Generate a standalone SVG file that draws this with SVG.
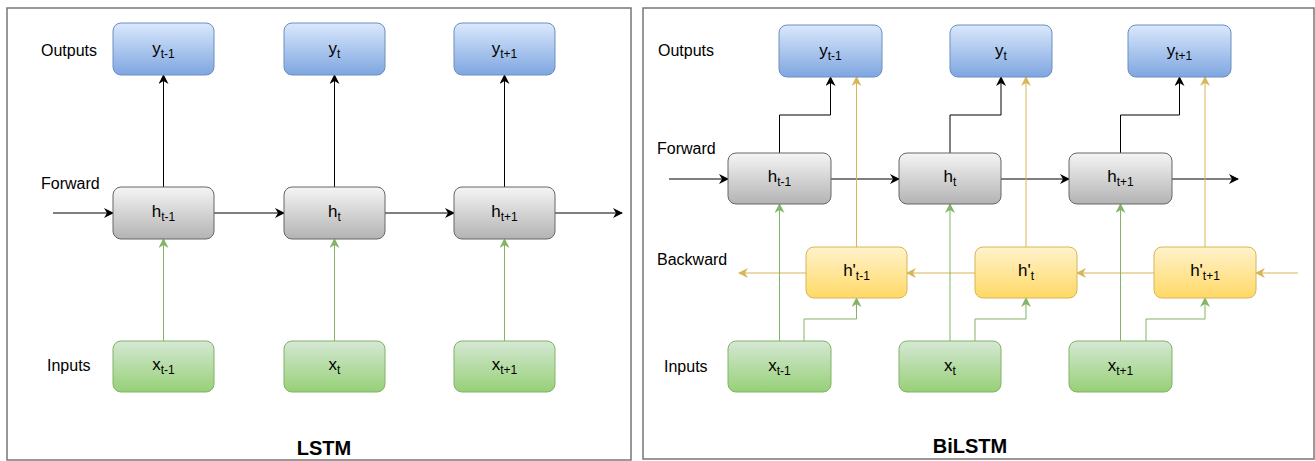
<svg xmlns="http://www.w3.org/2000/svg" width="1315" height="461" viewBox="0 0 1315 461">
  <defs>
    <linearGradient id="gBlue" x1="0" y1="0" x2="0" y2="1">
      <stop offset="0" stop-color="#dae8fc"/>
      <stop offset="1" stop-color="#7ea6e0"/>
    </linearGradient>
    <linearGradient id="gGray" x1="0" y1="0" x2="0" y2="1">
      <stop offset="0" stop-color="#f5f5f5"/>
      <stop offset="1" stop-color="#b3b3b3"/>
    </linearGradient>
    <linearGradient id="gYellow" x1="0" y1="0" x2="0" y2="1">
      <stop offset="0" stop-color="#fff2cc"/>
      <stop offset="1" stop-color="#ffd966"/>
    </linearGradient>
    <linearGradient id="gGreen" x1="0" y1="0" x2="0" y2="1">
      <stop offset="0" stop-color="#d5e8d4"/>
      <stop offset="1" stop-color="#97d077"/>
    </linearGradient>
    <marker id="aBlack" viewBox="0 0 10 10" refX="9" refY="5" markerWidth="10" markerHeight="10" markerUnits="userSpaceOnUse" orient="auto">
      <path d="M0,0 L10,5 L0,10 L3,5 Z" fill="#000"/>
    </marker>
    <marker id="aGreen" viewBox="0 0 10 10" refX="9" refY="5" markerWidth="10" markerHeight="10" markerUnits="userSpaceOnUse" orient="auto">
      <path d="M0,0 L10,5 L0,10 L3,5 Z" fill="#82b366"/>
    </marker>
    <marker id="aYellow" viewBox="0 0 10 10" refX="9" refY="5" markerWidth="10" markerHeight="10" markerUnits="userSpaceOnUse" orient="auto">
      <path d="M0,0 L10,5 L0,10 L3,5 Z" fill="#d6b656"/>
    </marker>
  </defs>
  <style>
    text { font-family: "Liberation Sans", Arial, sans-serif; fill: #000; }
    .lbl { font-size: 16px; }
    .nt { font-size: 17px; text-anchor: middle; }
    .sub { font-size: 12px; }
    .title { font-size: 20px; font-weight: bold; text-anchor: middle; }
    .panel { fill: #fff; stroke: #777; stroke-width: 1.5; }
    .out { fill: url(#gBlue); stroke: #6c8ebf; }
    .hid { fill: url(#gGray); stroke: #666; }
    .bwd { fill: url(#gYellow); stroke: #d6b656; }
    .inp { fill: url(#gGreen); stroke: #82b366; }
    .k { fill: none; stroke: #000; stroke-width: 1; marker-end: url(#aBlack); }
    .g { fill: none; stroke: #82b366; stroke-width: 1; marker-end: url(#aGreen); }
    .y { fill: none; stroke: #d6b656; stroke-width: 1; marker-end: url(#aYellow); }
  </style>

  <rect width="1315" height="461" fill="#fff"/>

  <!-- panel frames -->
  <rect class="panel" x="7" y="8" width="624" height="452"/>
  <rect class="panel" x="643" y="8" width="671" height="451"/>

  <!-- row labels and panel titles -->
  <g id="labels">
    <text class="lbl" x="41" y="56">Outputs</text>
    <text class="lbl" x="41" y="189">Forward</text>
    <text class="lbl" x="47" y="371">Inputs</text>
    <text class="lbl" x="658" y="56">Outputs</text>
    <text class="lbl" x="657" y="154">Forward</text>
    <text class="lbl" x="657" y="265">Backward</text>
    <text class="lbl" x="664" y="372">Inputs</text>
    <text class="title" x="324" y="455">LSTM</text>
    <text class="title" x="970" y="453">BiLSTM</text>
  </g>

  <!-- connectors -->
  <g id="connectors">
    <!-- LSTM forward chain -->
    <path class="k" d="M53,213 H113"/>
    <path class="k" d="M214,213 H284"/>
    <path class="k" d="M385,213 H454"/>
    <path class="k" d="M555,213 H622"/>
    <!-- LSTM hidden to output -->
    <path class="k" d="M163.5,187 V75"/>
    <path class="k" d="M334.5,187 V75"/>
    <path class="k" d="M504.5,187 V75"/>
    <!-- LSTM input to hidden -->
    <path class="g" d="M163.5,341 V239"/>
    <path class="g" d="M334.5,341 V239"/>
    <path class="g" d="M504.5,341 V239"/>

    <!-- BiLSTM forward chain -->
    <path class="k" d="M669,179 H728"/>
    <path class="k" d="M831,179 H899"/>
    <path class="k" d="M1001,179 H1069"/>
    <path class="k" d="M1172,179 H1238"/>
    <!-- BiLSTM backward chain -->
    <path class="y" d="M1298,273 H1256"/>
    <path class="y" d="M1154,273 H1077"/>
    <path class="y" d="M975,273 H907"/>
    <path class="y" d="M806,273 H739"/>
    <!-- forward hidden to output -->
    <path class="k" d="M779.5,153 V115 H830.5 V77"/>
    <path class="k" d="M950,153 V115 H1001 V77"/>
    <path class="k" d="M1120.5,153 V115 H1179.5 V77"/>
    <!-- backward hidden to output -->
    <path class="y" d="M856.5,247 V77"/>
    <path class="y" d="M1026,247 V77"/>
    <path class="y" d="M1205,247 V77"/>
    <!-- input to forward hidden -->
    <path class="g" d="M779.5,341 V204"/>
    <path class="g" d="M950,341 V204"/>
    <path class="g" d="M1120.5,341 V204"/>
    <!-- input to backward hidden -->
    <path class="g" d="M804,341 V319 H856.5 V298"/>
    <path class="g" d="M975,341 V319 H1026 V298"/>
    <path class="g" d="M1146,341 V319 H1205 V298"/>
  </g>

  <!-- LSTM nodes -->
  <g id="lstm-y-tm1"><rect class="out" x="113" y="23" width="101" height="52" rx="8"/><text class="nt" x="163.5" y="54">y<tspan class="sub" dy="4">t-1</tspan></text></g>
  <g id="lstm-y-t"><rect class="out" x="284" y="23" width="101" height="52" rx="8"/><text class="nt" x="334.5" y="54">y<tspan class="sub" dy="4">t</tspan></text></g>
  <g id="lstm-y-tp1"><rect class="out" x="454" y="23" width="101" height="52" rx="8"/><text class="nt" x="504.5" y="54">y<tspan class="sub" dy="4">t+1</tspan></text></g>

  <g id="lstm-h-tm1"><rect class="hid" x="113" y="187" width="101" height="52" rx="8"/><text class="nt" x="163.5" y="217">h<tspan class="sub" dy="4">t-1</tspan></text></g>
  <g id="lstm-h-t"><rect class="hid" x="284" y="187" width="101" height="52" rx="8"/><text class="nt" x="334.5" y="217">h<tspan class="sub" dy="4">t</tspan></text></g>
  <g id="lstm-h-tp1"><rect class="hid" x="454" y="187" width="101" height="52" rx="8"/><text class="nt" x="504.5" y="217">h<tspan class="sub" dy="4">t+1</tspan></text></g>

  <g id="lstm-x-tm1"><rect class="inp" x="113" y="341" width="101" height="51" rx="8"/><text class="nt" x="163.5" y="370">x<tspan class="sub" dy="4">t-1</tspan></text></g>
  <g id="lstm-x-t"><rect class="inp" x="284" y="341" width="101" height="51" rx="8"/><text class="nt" x="334.5" y="370">x<tspan class="sub" dy="4">t</tspan></text></g>
  <g id="lstm-x-tp1"><rect class="inp" x="454" y="341" width="101" height="51" rx="8"/><text class="nt" x="504.5" y="370">x<tspan class="sub" dy="4">t+1</tspan></text></g>

  <!-- BiLSTM nodes -->
  <g id="bi-y-tm1"><rect class="out" x="779" y="25" width="103" height="52" rx="8"/><text class="nt" x="830.5" y="56">y<tspan class="sub" dy="4">t-1</tspan></text></g>
  <g id="bi-y-t"><rect class="out" x="950" y="25" width="102" height="52" rx="8"/><text class="nt" x="1001" y="56">y<tspan class="sub" dy="4">t</tspan></text></g>
  <g id="bi-y-tp1"><rect class="out" x="1128" y="25" width="103" height="52" rx="8"/><text class="nt" x="1179.5" y="56">y<tspan class="sub" dy="4">t+1</tspan></text></g>

  <g id="bi-h-tm1"><rect class="hid" x="728" y="153" width="103" height="51" rx="8"/><text class="nt" x="779.5" y="182">h<tspan class="sub" dy="4">t-1</tspan></text></g>
  <g id="bi-h-t"><rect class="hid" x="899" y="153" width="102" height="51" rx="8"/><text class="nt" x="950" y="182">h<tspan class="sub" dy="4">t</tspan></text></g>
  <g id="bi-h-tp1"><rect class="hid" x="1069" y="153" width="103" height="51" rx="8"/><text class="nt" x="1120.5" y="182">h<tspan class="sub" dy="4">t+1</tspan></text></g>

  <g id="bi-hb-tm1"><rect class="bwd" x="806" y="247" width="101" height="51" rx="8"/><text class="nt" x="856.5" y="276">h'<tspan class="sub" dy="4">t-1</tspan></text></g>
  <g id="bi-hb-t"><rect class="bwd" x="975" y="247" width="102" height="51" rx="8"/><text class="nt" x="1026" y="276">h'<tspan class="sub" dy="4">t</tspan></text></g>
  <g id="bi-hb-tp1"><rect class="bwd" x="1154" y="247" width="102" height="51" rx="8"/><text class="nt" x="1205" y="276">h'<tspan class="sub" dy="4">t+1</tspan></text></g>

  <g id="bi-x-tm1"><rect class="inp" x="728" y="341" width="103" height="51" rx="8"/><text class="nt" x="779.5" y="371">x<tspan class="sub" dy="4">t-1</tspan></text></g>
  <g id="bi-x-t"><rect class="inp" x="899" y="341" width="102" height="51" rx="8"/><text class="nt" x="950" y="371">x<tspan class="sub" dy="4">t</tspan></text></g>
  <g id="bi-x-tp1"><rect class="inp" x="1069" y="341" width="103" height="51" rx="8"/><text class="nt" x="1120.5" y="371">x<tspan class="sub" dy="4">t+1</tspan></text></g>
</svg>
